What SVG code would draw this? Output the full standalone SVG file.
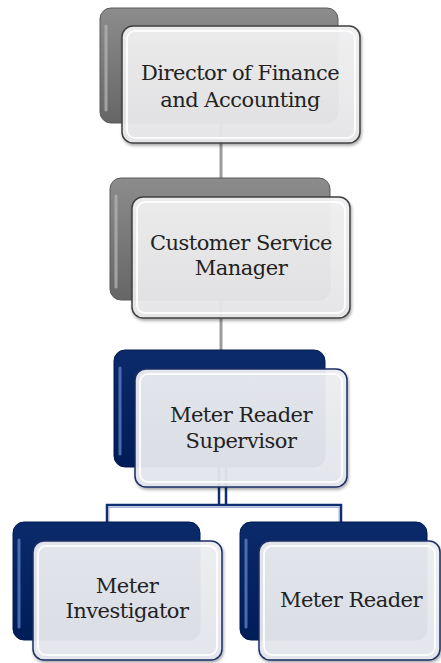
<svg xmlns="http://www.w3.org/2000/svg" width="441" height="663" viewBox="0 0 441 663">
<defs>
  <linearGradient id="gBack" x1="0" y1="0" x2="0" y2="1">
    <stop offset="0" stop-color="#8c8c8c"/>
    <stop offset="1" stop-color="#666666"/>
  </linearGradient>
  <linearGradient id="nBack" x1="0" y1="0" x2="0" y2="1">
    <stop offset="0" stop-color="#0b2a6a"/>
    <stop offset="1" stop-color="#001d58"/>
  </linearGradient>
  <linearGradient id="front" x1="0" y1="0" x2="0" y2="1">
    <stop offset="0" stop-color="#f2f2f3"/>
    <stop offset="1" stop-color="#e6e6e8"/>
  </linearGradient>
  <linearGradient id="frontN" x1="0" y1="0" x2="0" y2="1">
    <stop offset="0" stop-color="#eeeff3"/>
    <stop offset="1" stop-color="#e4e6ec"/>
  </linearGradient>
  <filter id="sh" x="-10%" y="-10%" width="125%" height="130%">
    <feDropShadow dx="1" dy="2" stdDeviation="1.5" flood-color="#000" flood-opacity="0.35"/>
  </filter>
</defs>
<style>
  .gb { fill: url(#gBack); stroke: #5a5a5a; stroke-width: 1; }
  .nb { fill: url(#nBack); stroke: #001a4f; stroke-width: 1; }
  .ghl { fill: none; stroke: #b0b0b0; stroke-width: 3; stroke-linecap: round; opacity: 0.8; }
  .nhl { fill: none; stroke: #5c7fc4; stroke-width: 3; stroke-linecap: round; opacity: 0.8; }
  .gf { fill: url(#front); stroke: #404040; stroke-width: 1.5; fill-opacity: 0.94; filter: url(#sh); }
  .nf { fill: url(#frontN); stroke: #1b2f66; stroke-width: 1.5; fill-opacity: 0.94; filter: url(#sh); }
  .inner { fill: none; stroke: #ffffff; stroke-width: 2; opacity: 0.85; }
  .gc { stroke: #9c9c9c; stroke-width: 3; fill: none; }
  .nc { stroke: #0e2f72; stroke-width: 2.5; fill: none; }
  .t { font-family: "DejaVu Serif", "Liberation Serif", serif; font-size: 21px; letter-spacing: -0.5px; fill: #222222; text-anchor: middle; }
</style>

<g id="connectors">
  <line class="gc" x1="221" y1="123" x2="221" y2="180"/>
  <line class="gc" x1="221" y1="300" x2="221" y2="352"/>
  <line class="nc" x1="219" y1="467" x2="219" y2="506"/>
  <line class="nc" x1="226" y1="467" x2="226" y2="506"/>
  <path class="nc" d="M107,524 V505 H341 V524"/>
  <path d="M109,524 V507.5 H339 V524" fill="none" stroke="#4a6aa8" stroke-width="0.8" opacity="0.6"/>
</g>

<g id="node1">
  <rect class="gb" x="100" y="8" width="238" height="115" rx="11"/>
  <path class="ghl" d="M106,26 V110"/>
  <rect class="gf" x="122" y="26" width="238" height="117" rx="11"/>
  <rect class="inner" x="127" y="31" width="228" height="107" rx="8"/>
  <text class="t" x="240" y="80">Director of  Finance</text>
  <text class="t" x="240" y="107">and Accounting</text>
</g>

<g id="node2">
  <rect class="gb" x="110" y="178" width="220" height="122" rx="11"/>
  <path class="ghl" d="M116,196 V287"/>
  <rect class="gf" x="132" y="197" width="218" height="121" rx="11"/>
  <rect class="inner" x="137" y="202" width="208" height="111" rx="8"/>
  <text class="t" x="241" y="250">Customer Service</text>
  <text class="t" x="241" y="275">Manager</text>
</g>

<g id="node3">
  <rect class="nb" x="114" y="350" width="211" height="117" rx="11"/>
  <path class="nhl" d="M120,368 V454"/>
  <rect class="nf" x="135" y="369" width="212" height="118" rx="11"/>
  <rect class="inner" x="140" y="374" width="202" height="108" rx="8"/>
  <text class="t" x="241" y="422">Meter Reader</text>
  <text class="t" x="241" y="448">Supervisor</text>
</g>

<g id="node4">
  <rect class="nb" x="13" y="522" width="187" height="118" rx="11"/>
  <path class="nhl" d="M19,540 V627"/>
  <rect class="nf" x="33" y="541" width="189" height="119" rx="11"/>
  <rect class="inner" x="38" y="546" width="179" height="109" rx="8"/>
  <text class="t" x="127" y="593">Meter</text>
  <text class="t" x="127" y="618">Investigator</text>
</g>

<g id="node5">
  <rect class="nb" x="240" y="522" width="187" height="118" rx="11"/>
  <path class="nhl" d="M246,540 V627"/>
  <rect class="nf" x="259" y="541" width="181" height="119" rx="11"/>
  <rect class="inner" x="264" y="546" width="171" height="109" rx="8"/>
  <text class="t" x="351" y="607">Meter Reader</text>
</g>
</svg>
